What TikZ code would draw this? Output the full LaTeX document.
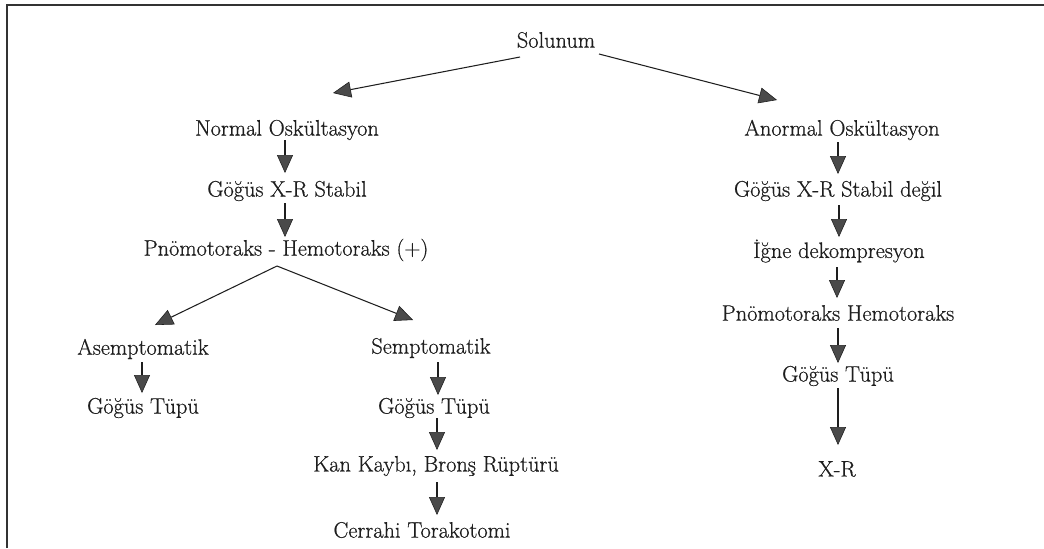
\documentclass[tikz,border=0pt]{standalone}
\usepackage{fontspec}
\newfontfamily\diagfont{Latin Modern Roman}[FakeBold=0.6]
\usetikzlibrary{arrows.meta,calc}
\definecolor{ink}{HTML}{1E1E1E}
\definecolor{headfill}{HTML}{4A4A4A}
\tikzset{
  lbl/.style={font=\diagfont\fontsize{15.9}{18}\selectfont, inner sep=0pt, text=ink},
  arr/.style={draw=ink, line width=0.75pt,
    -{Triangle[length=0.45cm, width=0.4cm, fill=headfill, line width=0.4pt]}},
  frameline/.style={draw=black!80, line width=1.3pt}
}
\begin{document}
\begin{tikzpicture}[x=0.025cm,y=-0.025cm]
\useasboundingbox (0,0) rectangle (1044,548);
% frame
\draw[frameline] (7,548) -- (7,5) -- (1044,5);
% nodes
\node[lbl] (sol) at (556,40) {Solunum};
\node[lbl] (no)  at (287,130) {Normal Oskültasyon};
\node[lbl] (g1)  at (287,191) {Göğüs X-R Stabil};
\node[lbl] (ph)  at (286,250) {Pnömotoraks - Hemotoraks (+)};
\node[lbl] (as)  at (143,349) {Asemptomatik};
\node[lbl] (gt1) at (143,408) {Göğüs Tüpü};
\node[lbl] (se)  at (431,348) {Semptomatik};
\node[lbl] (gt2) at (434,408) {Göğüs Tüpü};
\node[lbl] (kk)  at (436,466) {Kan Kaybı, Bronş Rüptürü};
\node[lbl] (ct)  at (422,530) {Cerrahi Torakotomi};
\node[lbl] (ao)  at (842,130) {Anormal Oskültasyon};
\node[lbl] (g2)  at (838,191) {Göğüs X-R Stabil değil};
\node[lbl] (ig)  at (839,251) {İğne dekompresyon};
\node[lbl] (ph2) at (838,313) {Pnömotoraks Hemotoraks};
\node[lbl] (gt3) at (838,376) {Göğüs Tüpü};
\node[lbl] (xr)  at (837,469) {X-R};
% diagonal connectors
\draw[arr] ($(sol)+(-36,17)$) -- ($(no)+(46,-37)$);
\draw[arr] ($(sol)+(43,14)$) -- ($(ao)+(-65,-30)$);
\draw[arr] ($(ph)+(-9,16)$) -- ($(as)+(12,-24)$);
\draw[arr] ($(ph)+(-9,16)$) -- ($(se)+(-18,-28)$);
% vertical connectors
\draw[arr] ($(no)+(-2,10)$) -- ($(g1)+(-2,-18)$);
\draw[arr] ($(g1)+(-2,12)$) -- ($(ph)+(-1,-13)$);
\draw[arr] ($(as)+(-1,13)$) -- ($(gt1)+(-1,-15)$);
\draw[arr] ($(se)+(7,14)$) -- ($(gt2)+(4,-13)$);
\draw[arr] ($(gt2)+(3,10)$) -- ($(kk)+(1,-16)$);
\draw[arr] ($(kk)+(1,16)$) -- ($(ct)+(15,-15)$);
\draw[arr] ($(ao)+(-4,12)$) -- ($(g2)+(0,-17)$);
\draw[arr] ($(g2)+(1,14)$) -- ($(ig)+(0,-14)$);
\draw[arr] ($(ig)+(-2,16)$) -- ($(ph2)+(-1,-15)$);
\draw[arr] ($(ph2)+(0,15)$) -- ($(gt3)+(0,-13)$);
\draw[arr] ($(gt3)+(0,12)$) -- ($(xr)+(1,-24)$);
\end{tikzpicture}
\end{document}
